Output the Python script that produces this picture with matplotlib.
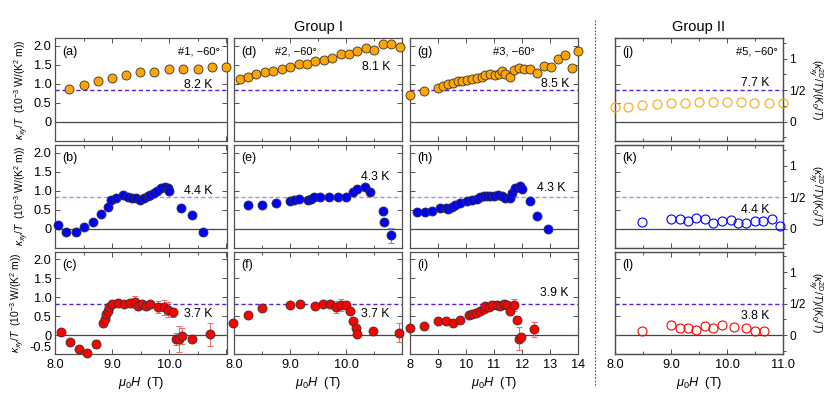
import matplotlib
matplotlib.use('Agg')
import matplotlib.pyplot as plt
from matplotlib.lines import Line2D
from matplotlib.ticker import MultipleLocator, FixedLocator

plt.rcParams['font.family'] = ['Liberation Sans', 'DejaVu Sans']
plt.rcParams['mathtext.fontset'] = 'custom'
plt.rcParams['mathtext.rm'] = 'Liberation Sans'
plt.rcParams['mathtext.it'] = 'Liberation Sans:italic'
plt.rcParams['mathtext.bf'] = 'Liberation Sans:bold'

HALF = 0.83    # half-quantized level, in 1e-3 W/(K^2 m)
SCALE = 1.66   # K0/T, in 1e-3 W/(K^2 m)

# ---------------- Group I, row 1 (orange) ----------------
xa = [8.25, 8.51, 8.75, 9.00, 9.25, 9.49, 9.74, 10.0, 10.24, 10.5, 10.75, 11.0]
ya = [0.86, 0.98, 1.06, 1.14, 1.22, 1.30, 1.32, 1.38, 1.39, 1.39, 1.43, 1.45]
xd = [8.10, 8.25, 8.40, 8.55, 8.70, 8.85, 8.99, 9.15, 9.30, 9.45, 9.60, 9.75, 9.90, 10.05, 10.20, 10.35, 10.50, 10.65, 10.80, 10.95]
yd = [1.12, 1.18, 1.25, 1.31, 1.33, 1.39, 1.44, 1.53, 1.53, 1.60, 1.63, 1.69, 1.78, 1.78, 1.85, 1.93, 1.89, 2.04, 2.06, 1.97]
xg = [8.0, 8.51, 9.01, 9.19, 9.37, 9.55, 9.73, 9.85, 10.03, 10.21, 10.39, 10.57, 10.69, 10.87, 11.05, 11.17, 11.29, 11.41, 11.58, 11.70, 11.88, 12.06, 12.30, 12.54, 12.78, 13.02, 13.27, 13.55, 13.79, 14.0]
yg = [0.71, 0.80, 0.90, 0.95, 0.99, 1.03, 1.06, 1.07, 1.09, 1.12, 1.14, 1.18, 1.22, 1.25, 1.22, 1.25, 1.33, 1.27, 1.19, 1.36, 1.42, 1.38, 1.40, 1.29, 1.46, 1.44, 1.66, 1.75, 1.42, 1.85]

# ---------------- Group I, row 2 (blue) ----------------
xb = [8.06, 8.20, 8.36, 8.51, 8.66, 8.80, 8.93, 8.98, 9.06, 9.19, 9.28, 9.35, 9.42, 9.49, 9.56, 9.62, 9.67, 9.73, 9.79, 9.86, 9.92, 9.97, 9.99, 10.20, 10.40, 10.59]
yb = [0.09, -0.10, -0.10, 0.03, 0.17, 0.37, 0.57, 0.75, 0.80, 0.87, 0.83, 0.81, 0.80, 0.76, 0.80, 0.85, 0.89, 0.94, 1.00, 1.07, 1.10, 1.07, 1.00, 0.54, 0.35, -0.09]
xe = [8.25, 8.49, 8.74, 8.99, 9.06, 9.16, 9.31, 9.37, 9.42, 9.53, 9.70, 9.85, 9.99, 10.12, 10.20, 10.34, 10.42, 10.65, 10.67, 10.80]
ye = [0.63, 0.63, 0.68, 0.72, 0.74, 0.78, 0.76, 0.79, 0.82, 0.82, 0.82, 0.82, 0.82, 0.97, 1.03, 1.09, 0.96, 0.46, 0.17, -0.18]
ee = [0.02, 0.02, 0.02, 0.02, 0.02, 0.02, 0.02, 0.02, 0.02, 0.02, 0.02, 0.02, 0.03, 0.05, 0.08, 0.05, 0.03, 0.03, 0.03, 0.2]
xh = [8.24, 8.54, 8.78, 9.08, 9.29, 9.37, 9.49, 9.61, 9.79, 10.03, 10.21, 10.39, 10.51, 10.63, 10.75, 10.87, 10.99, 11.14, 11.29, 11.41, 11.56, 11.64, 11.76, 11.94, 12.0, 12.29, 12.53, 12.93]
yh = [0.43, 0.43, 0.46, 0.54, 0.53, 0.52, 0.56, 0.61, 0.66, 0.72, 0.75, 0.79, 0.82, 0.85, 0.85, 0.85, 0.85, 0.89, 0.85, 0.81, 0.81, 0.94, 1.07, 1.11, 1.03, 0.72, 0.34, -0.01]

# ---------------- Group I, row 3 (red) ----------------
xc = [8.10, 8.26, 8.42, 8.56, 8.71, 8.84, 8.87, 8.90, 8.92, 8.95, 8.99, 9.11, 9.21, 9.31, 9.40, 9.46, 9.53, 9.59, 9.67, 9.81, 9.91, 9.97, 10.07, 10.11, 10.17, 10.23, 10.40, 10.72]
yc = [0.09, -0.19, -0.37, -0.48, -0.23, 0.33, 0.44, 0.55, 0.65, 0.74, 0.81, 0.85, 0.81, 0.85, 0.87, 0.78, 0.83, 0.77, 0.81, 0.74, 0.74, 0.67, 0.61, -0.10, -0.10, -0.02, -0.09, 0.02]
ec = [0.03, 0.03, 0.03, 0.03, 0.10, 0.03, 0.03, 0.03, 0.03, 0.03, 0.05, 0.05, 0.05, 0.10, 0.15, 0.12, 0.08, 0.10, 0.08, 0.15, 0.20, 0.20, 0.12, 0.15, 0.35, 0.20, 0.05, 0.30]
xf = [7.98, 8.25, 8.49, 8.99, 9.17, 9.44, 9.59, 9.71, 9.81, 9.91, 10.0, 10.06, 10.12, 10.17, 10.19, 10.47, 10.94]
yf = [0.33, 0.54, 0.71, 0.80, 0.83, 0.76, 0.83, 0.83, 0.74, 0.80, 0.80, 0.63, 0.37, 0.19, 0.03, 0.11, 0.06]
ef = [0.02, 0.02, 0.02, 0.02, 0.02, 0.02, 0.02, 0.05, 0.15, 0.15, 0.10, 0.05, 0.03, 0.03, 0.03, 0.03, 0.25]
xi = [8.0, 8.51, 9.01, 9.29, 9.53, 9.77, 10.09, 10.21, 10.37, 10.51, 10.63, 10.69, 10.81, 10.93, 11.11, 11.23, 11.34, 11.47, 11.58, 11.70, 11.82, 11.91, 11.98, 12.42]
yi = [0.20, 0.24, 0.37, 0.37, 0.33, 0.41, 0.52, 0.55, 0.58, 0.63, 0.70, 0.78, 0.74, 0.80, 0.80, 0.78, 0.83, 0.80, 0.65, 0.80, 0.41, -0.09, -0.06, 0.16]
ei = [0.02, 0.02, 0.02, 0.02, 0.02, 0.02, 0.02, 0.02, 0.02, 0.02, 0.03, 0.05, 0.05, 0.10, 0.10, 0.10, 0.10, 0.10, 0.10, 0.15, 0.10, 0.30, 0.10, 0.20]

# ---------------- Group II (normalized, kxy2D/T / (K0/T)) ----------------
xj = [8.0, 8.24, 8.49, 8.74, 8.99, 9.25, 9.50, 9.75, 9.99, 10.24, 10.48, 10.74, 10.99]
yj = [0.226, 0.237, 0.263, 0.278, 0.29, 0.29, 0.305, 0.305, 0.305, 0.316, 0.29, 0.29, 0.29]
xk = [8.49, 9.0, 9.15, 9.31, 9.45, 9.60, 9.75, 9.91, 10.06, 10.19, 10.34, 10.49, 10.64, 10.79, 10.94]
yk = [0.107, 0.144, 0.144, 0.117, 0.17, 0.155, 0.08, 0.117, 0.128, 0.09, 0.09, 0.117, 0.117, 0.144, 0.037]
xl = [8.49, 9.0, 9.15, 9.30, 9.45, 9.60, 9.75, 9.90, 10.12, 10.34, 10.49, 10.65]
yl = [0.063, 0.158, 0.115, 0.121, 0.09, 0.147, 0.115, 0.158, 0.131, 0.121, 0.068, 0.063]

panel_labels = [['(a)', '(d)', '(g)', '(j)'], ['(b)', '(e)', '(h)', '(k)'], ['(c)', '(f)', '(i)', '(l)']]
temps = [['8.2 K', '8.1 K', '8.5 K', '7.7 K'], ['4.4 K', '4.3 K', '4.3 K', '4.4 K'], ['3.7 K', '3.7 K', '3.9 K', '3.8 K']]
temp_pos = [[(0.915, 0.543), (0.926, 0.722), (0.946, 0.55), (0.92, 0.566)],
            [(0.915, 0.551), (0.92, 0.69), (0.923, 0.583), (0.92, 0.366)],
            [(0.915, 0.392), (0.92, 0.392), (0.946, 0.60), (0.92, 0.373)]]
samples = ['#1, \u221260\u00b0', '#2, \u221260\u00b0', '#3, \u221260\u00b0', '#5, \u221260\u00b0']
sample_pos = [(0.962, 0.875, 'right'), (0.368, 0.875, 'center'), (0.744, 0.875, 'right'), (0.969, 0.875, 'right')]

row_colors = ['#FFA500', '#0000FF', '#FF0000']
half_colors = ['#5a1fd8', '#a58cf0', '#5a1fd8']
err_colors = ['#f5b55a', '#8080ff', '#f07070']

groupI = [[(xa, ya, None), (xd, yd, None), (xg, yg, None)],
          [(xb, yb, None), (xe, ye, ee), (xh, yh, None)],
          [(xc, yc, ec), (xf, yf, ef), (xi, yi, ei)]]
groupII = [(xj, yj), (xk, yk), (xl, yl)]

fig = plt.figure(figsize=(8.3, 3.94), dpi=100)
col_l = [55/830, 234/830, 410/830, 615/830]
col_w = [171.5/830, 168.4/830, 168.0/830, 168.3/830]
row_b = [1-140.7/394, 1-247.5/394, 1-354.2/394]
row_h = 102.5/394

frame_c = '#505050'
tick_fs = 9.2

for r in range(3):
    for c in range(4):
        ax = fig.add_axes([col_l[c], row_b[r], col_w[c], row_h])
        for s in ax.spines.values():
            s.set_color(frame_c)
            s.set_linewidth(0.9)
        ax.set_ylim(-0.5, 2.2)
        if c == 2:
            ax.set_xlim(8, 14)
            ax.set_xticks(range(8, 15))
            ax.set_xticklabels([str(v) for v in range(8, 15)])
        else:
            ax.set_xlim(8, 11)
            ax.xaxis.set_major_locator(FixedLocator([8, 9, 10, 11]))
            ax.xaxis.set_minor_locator(MultipleLocator(0.5))
            if c == 3:
                ax.set_xticklabels(['8.0', '9.0', '10.0', '11.0'])
            else:
                ax.set_xticklabels(['8.0', '9.0', '10.0', ''])
        ax.yaxis.set_major_locator(FixedLocator([-0.5, 0, 0.5, 1.0, 1.5, 2.0]))
        if c == 0:
            labs = ['-0.5' if r == 2 else '', '0', '0.5', '1.0', '1.5', '2.0']
            ax.set_yticklabels(labs)
            ax.set_ylabel('$\\kappa_{xy}/T$  (10$^{-3}$ W/(K$^2$ m))', fontsize=7.4, labelpad=2)
            if r == 2:
                ax.get_yticklabels()[0].set_va('bottom')
        else:
            ax.set_yticklabels([])
        if r < 2:
            ax.tick_params(axis='x', labelbottom=False)
        else:
            ax.set_xlabel('$\\mu_0H$  (T)', fontsize=9.2, labelpad=3)
        ax.tick_params(which='both', direction='in', top=True, right=(c != 3),
                       labelsize=tick_fs, color=frame_c, width=0.7, pad=2.5)
        ax.tick_params(axis='x', which='both', pad=3.5)
        ax.tick_params(which='major', length=3.5)
        ax.tick_params(which='minor', length=2.5)

        ax.axhline(0, color='#444444', lw=0.9, zorder=1)
        ax.axhline(HALF, color=half_colors[r], lw=1.0, ls=(0, (3, 2)), zorder=1)

        if c < 3:
            x, y, e = groupI[r][c]
            if e is not None:
                ax.errorbar(x, y, yerr=e, fmt='none', ecolor=err_colors[r],
                            elinewidth=0.8, capsize=2, capthick=0.8, zorder=2)
            ax.plot(x, y, 'o', ms=6.5, mfc=row_colors[r], mec='#333333', mew=0.6,
                    zorder=3, clip_on=False)
        else:
            tw = ax.twinx()
            tw.set_ylim(-0.5/SCALE, 2.2/SCALE)
            tw.yaxis.set_major_locator(FixedLocator([0, 0.5, 1.0]))
            tw.set_yticklabels(['0', '1/2', '1'])
            tw.yaxis.set_minor_locator(FixedLocator([-0.25, 0.25, 0.75, 1.25]))
            tw.tick_params(which='both', direction='out', labelsize=8.6,
                           color=frame_c, width=0.7, pad=1.2)
            tw.tick_params(which='major', length=3)
            tw.tick_params(which='minor', length=2)
            for s in tw.spines.values():
                s.set_color(frame_c)
                s.set_linewidth(0.9)
            x, y = groupII[r]
            tw.plot(x, y, 'o', ms=6.5, mfc='none', mec=row_colors[r], mew=0.8,
                    zorder=3, clip_on=False)
            fig.text(815/830, row_b[r] + row_h/2, '$(\\kappa^{\\rm 2D}_{xy}/T)/(K_0/T)$',
                     fontsize=7.3, rotation=-90, ha='center', va='center')

        ax.text(0.045, 0.87, panel_labels[r][c], transform=ax.transAxes,
                fontsize=9, ha='left', va='center')
        tx, ty = temp_pos[r][c]
        ax.text(tx, ty, temps[r][c], transform=ax.transAxes, fontsize=8.8,
                ha='right', va='center')
        if r == 0:
            sx, sy, sha = sample_pos[c]
            ax.text(sx, sy, samples[c], transform=ax.transAxes, fontsize=8,
                    ha=sha, va='center')

fig.text(318/830, 1-26.7/394, 'Group I', fontsize=10.5, ha='center', va='center')
fig.text(699/830, 1-26.7/394, 'Group II', fontsize=10.5, ha='center', va='center')
fig.add_artist(Line2D([595/830, 595/830], [1-20/394, 1-387/394], transform=fig.transFigure,
                      ls=(0, (1.5, 1.5)), color='#555555', lw=0.8))

fig.savefig('out.png', dpi=100)
